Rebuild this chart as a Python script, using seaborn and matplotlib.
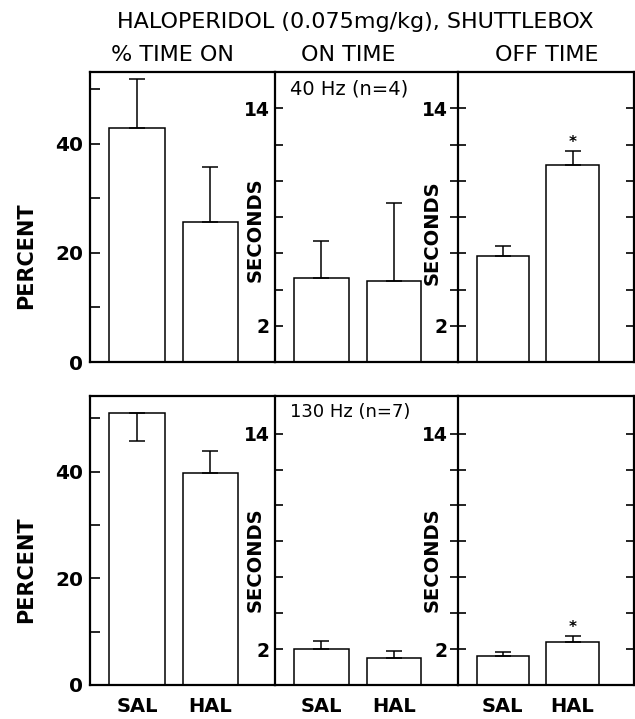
import matplotlib
matplotlib.use("Agg")
import matplotlib.pyplot as plt
import seaborn as sns
import pandas as pd

sns.set_theme(style="white")
plt.rcParams['font.family'] = ['DejaVu Sans']

groups = ["SAL", "HAL"]

# 40 Hz (n=4)
pct40 = [42.9, 25.7]
pct40_err = [9.0, 10.0]
on40 = [4.62, 4.47]
on40_err = [2.05, 4.32]
off40 = [5.87, 10.86]
off40_err = [0.54, 0.76]

# 130 Hz (n=7)
pct130 = [51.1, 39.8]
pct130_err = [5.3, 4.0]
on130 = [1.98, 1.52]
on130_err = [0.49, 0.37]
off130 = [1.63, 2.41]
off130_err = [0.22, 0.30]

# error bar direction: +1 drawn upward, -1 drawn downward
pct130_dir = [-1, 1]
up = [1, 1]

W, H = 635, 719
fig = plt.figure(figsize=(W / 100, H / 100), dpi=100)

def ax_at(x0, x1, ytop, ybot):
    return fig.add_axes([x0 / W, 1 - ybot / H, (x1 - x0) / W, (ybot - ytop) / H])

LW = 1.6
rows = [
    dict(ytop=72, ybot=362, pct=(pct40, pct40_err, up), on=(on40, on40_err, up),
         off=(off40, off40_err, up), plim=53.1, slim=16.0, label="40 Hz (n=4)",
         lsize=14, xlab=False, py=0.366, sy2=0.455, sy3=0.445),
    dict(ytop=396, ybot=685, pct=(pct130, pct130_err, pct130_dir), on=(on130, on130_err, up),
         off=(off130, off130_err, up), plim=54.2, slim=16.1, label="130 Hz (n=7)",
         lsize=13, xlab=True, py=0.398, sy2=0.434, sy3=0.433),
]

def draw(ax, vals, errs, dirs, star=False):
    df = pd.DataFrame({"group": groups, "value": vals})
    sns.barplot(data=df, x="group", y="value", ax=ax, color="white",
                edgecolor="black", linewidth=1.1, width=0.75, errorbar=None,
                saturation=1)
    lower = [e if d < 0 else 0 for e, d in zip(errs, dirs)]
    upper = [e if d > 0 else 0 for e, d in zip(errs, dirs)]
    ax.errorbar(x=range(len(vals)), y=vals, yerr=[lower, upper], fmt="none",
                ecolor="black", elinewidth=1.1, capsize=6, capthick=1.1)
    if star:
        i = 1
        ax.annotate("*", xy=(i, vals[i] + errs[i]), xytext=(0, 1),
                    textcoords="offset points", ha="center", va="bottom",
                    fontsize=11, fontweight="bold", color="black")
    ax.set_xlim(-0.64, 1.88)
    ax.set_xlabel("")
    ax.set_ylabel("")
    for s in ax.spines.values():
        s.set_color("black")
        s.set_linewidth(LW)

for r in rows:
    ytop, ybot = r["ytop"], r["ybot"]
    a1 = ax_at(90, 275, ytop, ybot)
    a2 = ax_at(275, 458, ytop, ybot)
    a3 = ax_at(458, 634, ytop, ybot)

    draw(a1, *r["pct"])
    draw(a2, *r["on"])
    draw(a3, *r["off"], star=True)

    a1.set_ylim(0, r["plim"])
    a1.set_yticks([0, 10, 20, 30, 40, 50])
    a1.set_yticklabels(["0", "", "20", "", "40", ""])
    a1.tick_params(axis="y", direction="in", length=7, width=1.2, colors="black",
                   labelsize=14.5, pad=5, left=True)
    a1.spines["right"].set_visible(False)

    for a in (a2, a3):
        a.set_ylim(0, r["slim"])
        a.set_yticks([2, 4, 6, 8, 10, 12, 14])
        a.set_yticklabels(["2", "", "", "", "", "", "14"])
    a2.tick_params(axis="y", direction="in", length=6, width=1.2, colors="black",
                   labelsize=13.5, pad=4, left=True)
    a2.spines["right"].set_visible(False)
    a3.tick_params(axis="y", direction="inout", length=11, width=1.2, colors="black",
                   labelsize=13.5, pad=2, left=True, right=True)

    for a in (a1, a2, a3):
        for lab in a.get_yticklabels():
            lab.set_fontweight("bold")
        a.tick_params(axis="x", length=0, pad=9, labelsize=14, colors="black")
        if r["xlab"]:
            for lab in a.get_xticklabels():
                lab.set_fontweight("bold")
        else:
            a.set_xticklabels([])

    a1.set_ylabel("PERCENT", fontsize=15, fontweight="bold", color="black")
    a1.yaxis.set_label_coords(-0.292, r["py"])
    a2.set_ylabel("SECONDS", fontsize=14, fontweight="bold", color="black")
    a2.yaxis.set_label_coords(-0.055, r["sy2"])
    a3.set_ylabel("SECONDS", fontsize=14, fontweight="bold", color="black")
    a3.yaxis.set_label_coords(-0.091, r["sy3"])
    a2.text(0.08, 0.975, r["label"], transform=a2.transAxes, ha="left", va="top",
            fontsize=r["lsize"], color="black")

fig.text(355 / W, 1 - 22.5 / H, "HALOPERIDOL (0.075mg/kg), SHUTTLEBOX",
         ha="center", va="center", fontsize=16, color="black")
fig.text(172 / W, 1 - 55 / H, "% TIME ON", ha="center", va="center", fontsize=16, color="black")
fig.text(348 / W, 1 - 55 / H, "ON TIME", ha="center", va="center", fontsize=16, color="black")
fig.text(547 / W, 1 - 55 / H, "OFF TIME", ha="center", va="center", fontsize=16, color="black")

fig.savefig("out.png", dpi=100, facecolor="white")
